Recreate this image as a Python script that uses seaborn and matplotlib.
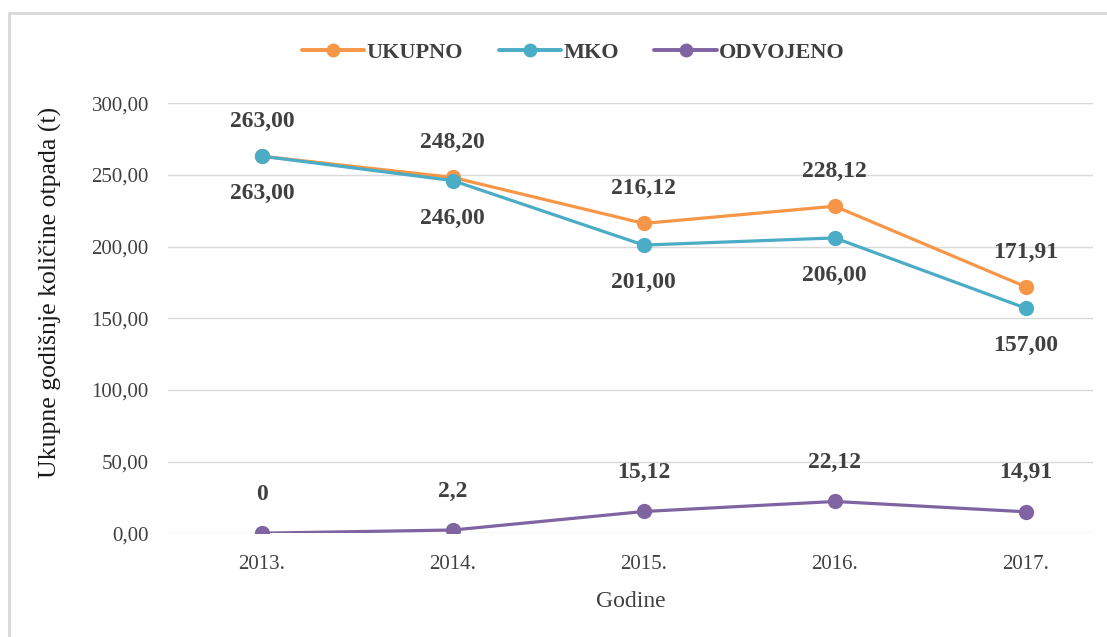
import matplotlib
matplotlib.use("Agg")
import matplotlib.pyplot as plt
import seaborn as sns
import pandas as pd
from matplotlib.ticker import FuncFormatter
from matplotlib.patches import Rectangle

years = ["2013.", "2014.", "2015.", "2016.", "2017."]
ukupno = [263.00, 248.20, 216.12, 228.12, 171.91]
mko = [263.00, 246.00, 201.00, 206.00, 157.00]
odvojeno = [0.0, 2.2, 15.12, 22.12, 14.91]
odvojeno_labels = ["0", "2,2", "15,12", "22,12", "14,91"]
series_names = ["UKUPNO", "MKO", "ODVOJENO"]
colors = ["#F79646", "#4BACC6", "#8064A2"]

sns.set_theme(style="white")
plt.rcParams['font.family'] = ['Liberation Serif', 'DejaVu Serif']

rows = []
for name, vals in zip(series_names, [ukupno, mko, odvojeno]):
    for i, v in enumerate(vals):
        rows.append({"Godina": i, "Vrijednost": v, "Serija": name})
df = pd.DataFrame(rows)

fig = plt.figure(figsize=(11.07, 6.37), dpi=100)
ax = fig.add_axes([0.152, 0.163, 0.835, 0.675])

sns.lineplot(data=df, x="Godina", y="Vrijednost", hue="Serija",
             hue_order=series_names, palette=colors, marker="o",
             markersize=11, linewidth=2.3, markeredgewidth=0, ax=ax,
             legend=False)

ax.set_ylim(0, 300)
ax.set_xlim(-0.49, 4.35)
ax.set_yticks(range(0, 301, 50))
ax.yaxis.set_major_formatter(FuncFormatter(lambda v, p: f"{v:.2f}".replace(".", ",")))
ax.set_xticks(range(len(years)))
ax.set_xticklabels(years)
ax.grid(axis="y", color="#d9d9d9", linewidth=1)
for s in ax.spines.values():
    s.set_visible(False)
ax.tick_params(axis="x", length=0, labelsize=15, colors="#404040", pad=16)
ax.tick_params(axis="y", length=0, labelsize=15, colors="#404040", pad=14)
ax.set_xlabel("Godine", fontsize=17, color="#404040", labelpad=12)
ax.set_ylabel("Ukupne godišnje količine otpada (t)", fontsize=18.5, color="#1a1a1a")
ax.yaxis.set_label_coords(-0.115, 0.56)

def fmt(v):
    return f"{v:.2f}".replace(".", ",")

lab_kw = dict(textcoords="offset points", ha="center", va="center",
              fontsize=17, fontweight="bold", color="#404040")
for i in range(len(years)):
    ax.annotate(fmt(ukupno[i]), (i, ukupno[i]), xytext=(0, 25), **lab_kw)
    ax.annotate(fmt(mko[i]), (i, mko[i]), xytext=(0, -27), **lab_kw)
    ax.annotate(odvojeno_labels[i], (i, odvojeno[i]), xytext=(0, 28), **lab_kw)

handles = [plt.Line2D([], [], color=c, marker="o", markersize=10, linewidth=2.8,
                      markeredgewidth=0) for c in colors]
fig.legend(handles, series_names, loc="center", bbox_to_anchor=(0.518, 0.917),
           ncol=3, frameon=False, handlelength=2.8, handletextpad=0.1,
           columnspacing=1.6,
           prop={"family": "Liberation Serif", "weight": "bold", "size": 16})
for t in fig.legends[0].get_texts():
    t.set_color("#404040")

fig.patches.append(Rectangle((0.008, -0.1), 1.2, 0.1 + 0.979, transform=fig.transFigure,
                             fill=False, edgecolor="#d9d9d9", linewidth=2))

fig.savefig("out.png", dpi=100, facecolor="white")
